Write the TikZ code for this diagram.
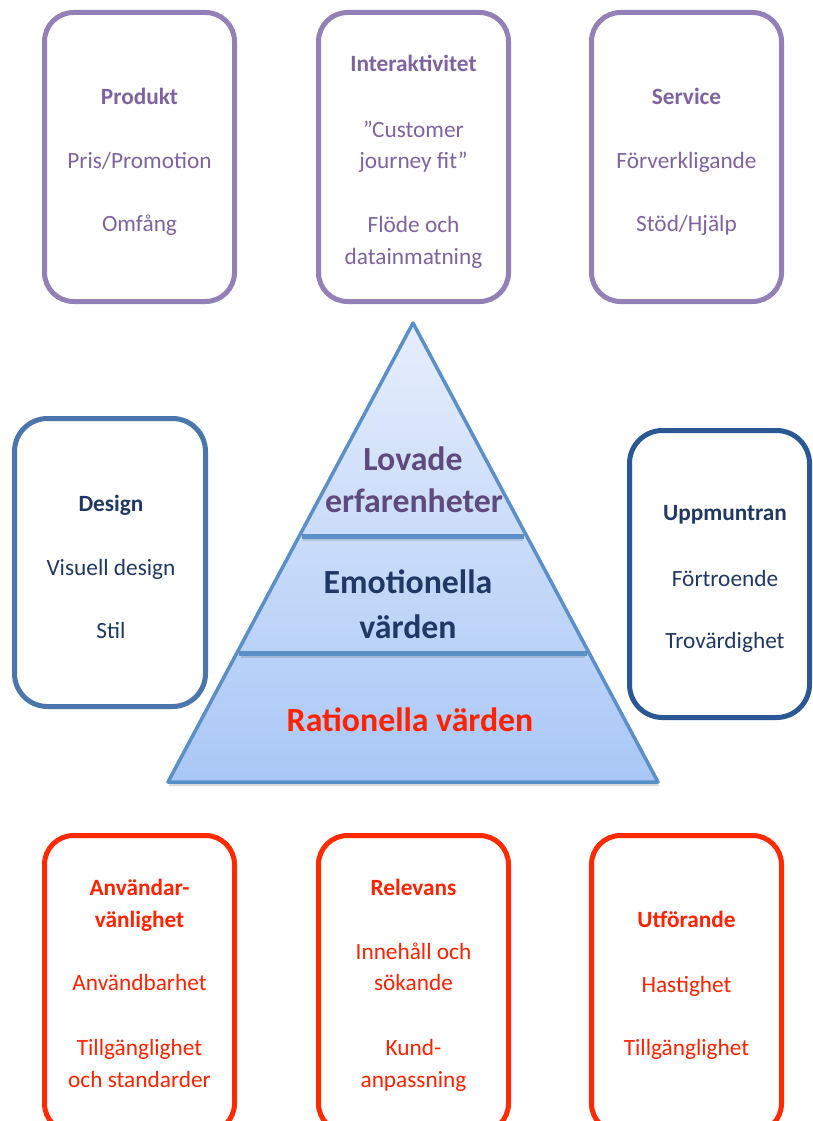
\documentclass[tikz,border=0pt]{standalone}
\usepackage{fontspec}
\setmainfont{Carlito}
\usetikzlibrary{calc}

\definecolor{purpleline}{HTML}{9280B6}
\definecolor{purpletext}{HTML}{7F63A1}
\definecolor{lovadetext}{HTML}{5F4A7D}
\definecolor{designline}{HTML}{4A76AB}
\definecolor{uppline}{HTML}{2B5894}
\definecolor{navytext}{HTML}{1F3864}
\definecolor{redline}{HTML}{FF2A00}
\definecolor{redtext}{HTML}{FF2200}
\definecolor{pyrline}{HTML}{5B8FC8}
\definecolor{pyrtop}{HTML}{E6EEFC}
\definecolor{pyrbottom}{HTML}{A9C7F6}

\tikzset{
  catbox/.style={draw, line width=5pt, fill=white, inner sep=0pt,
    rounded corners=29pt, minimum width=190pt, minimum height=289pt},
  sidebox/.style={catbox, rounded corners=33pt, minimum width=191pt, minimum height=288pt},
  txt/.style={font=\fontsize{23.3}{28}\selectfont, anchor=base, inner sep=0pt},
  head/.style={txt, font=\fontsize{23.3}{28}\selectfont\bfseries},
  pyrtxt/.style={font=\fontsize{33.8}{40}\selectfont\bfseries, anchor=base, inner sep=0pt},
  divider/.style={draw=pyrline, line width=5pt},
}

\begin{document}
\begin{tikzpicture}[x=1pt, y=-1pt]
\clip (0,0) rectangle (812,1121);
\fill[white] (0,0) rectangle (812,1121);

% ---------- top row ----------
\node[catbox, draw=purpleline] (produkt) at (139.5,157) {};
\node[catbox, draw=purpleline] (interakt) at (413.5,157) {};
\node[catbox, draw=purpleline] (service) at (686.5,157) {};

\node[head, text=purpletext] (t1) at (139.5,105) {Produkt};
\node[txt, text=purpletext] (t2) at (139.5,168) {Pris/Promotion};
\node[txt, text=purpletext] (t3) at (139.5,231) {Omfång};

\node[head, text=purpletext] (t4) at (413.5,72) {Interaktivitet};
\node[txt, text=purpletext] (t5) at (413.5,137) {”Customer};
\node[txt, text=purpletext] (t6) at (413.5,168) {journey fit”};
\node[txt, text=purpletext] (t7) at (413.5,232) {Flöde och};
\node[txt, text=purpletext] (t8) at (413.5,264) {datainmatning};

\node[head, text=purpletext] (t9) at (686.5,105) {Service};
\node[txt, text=purpletext] (t10) at (686.5,168) {Förverkligande};
\node[txt, text=purpletext] (t11) at (686.5,231) {Stöd/Hjälp};

% ---------- side boxes ----------
\node[sidebox, draw=designline] (design) at (110,562.5) {};
\node[sidebox, draw=uppline, minimum width=180pt, minimum height=287pt] (uppm) at (719.5,574) {};

\node[head, text=navytext] (d1) at (111,511) {Design};
\node[txt, text=navytext] (d2) at (111,575) {Visuell design};
\node[txt, text=navytext] (d3) at (111,638) {Stil};

\node[head, text=navytext] (u1) at (725,520) {Uppmuntran};
\node[txt, text=navytext] (u2) at (725,586) {Förtroende};
\node[txt, text=navytext] (u3) at (725,648) {Trovärdighet};

% ---------- pyramid ----------
\coordinate (apex) at (413,323);
\coordinate (bl) at (168,782);
\coordinate (br) at (658,782);

\fill[black, opacity=0.15] ([shift={(1,4)}]apex) -- ([shift={(1,4)}]bl) -- ([shift={(1,4)}]br) -- cycle;
\shade[top color=pyrtop, bottom color=pyrbottom, draw=pyrline, line width=3.5pt, line join=round]
  (apex) -- (bl) -- (br) -- cycle;

\coordinate (l1) at ($(apex)!0.466!(bl)$);
\coordinate (r1) at ($(apex)!0.466!(br)$);
\coordinate (l2) at ($(apex)!0.719!(bl)$);
\coordinate (r2) at ($(apex)!0.719!(br)$);

\draw[black, opacity=0.12, line width=3pt, shorten <=4pt, shorten >=4pt]
  ([yshift=-3pt]l1) -- ([yshift=-3pt]r1);
\draw[black, opacity=0.12, line width=3pt, shorten <=4pt, shorten >=4pt]
  ([yshift=-3pt]l2) -- ([yshift=-3pt]r2);
\draw[divider, shorten <=3pt, shorten >=3pt] (l1) -- (r1);
\draw[divider, shorten <=2pt, shorten >=2pt] (l2) -- (r2);

\node[pyrtxt, text=lovadetext] (p1) at (413,470) {Lovade};
\node[pyrtxt, text=lovadetext] (p2) at (414,512) {erfarenheter};
\node[pyrtxt, text=navytext] (p3) at (408,593) {Emotionella};
\node[pyrtxt, text=navytext] (p4) at (408,638) {värden};
\node[pyrtxt, text=redtext] (p5) at (410,731) {Rationella värden};

% ---------- bottom row ----------
\node[catbox, draw=redline, minimum height=297pt] (anv) at (139.5,984) {};
\node[catbox, draw=redline, minimum height=297pt] (rel) at (413.5,984) {};
\node[catbox, draw=redline, minimum height=297pt] (utf) at (686.5,984) {};

\node[head, text=redtext] (b1) at (139.5,895) {Användar-};
\node[head, text=redtext] (b2) at (139.5,927) {vänlighet};
\node[txt, text=redtext] (b3) at (139.5,990) {Användbarhet};
\node[txt, text=redtext] (b4) at (139.5,1055) {Tillgänglighet};
\node[txt, text=redtext] (b5) at (139.5,1087) {och standarder};

\node[head, text=redtext] (b6) at (413.5,895) {Relevans};
\node[txt, text=redtext] (b7) at (413.5,959) {Innehåll och};
\node[txt, text=redtext] (b8) at (413.5,990) {sökande};
\node[txt, text=redtext] (b9) at (413.5,1055) {Kund-};
\node[txt, text=redtext] (b10) at (413.5,1087) {anpassning};

\node[head, text=redtext] (b11) at (686.5,927) {Utförande};
\node[txt, text=redtext] (b12) at (686.5,992) {Hastighet};
\node[txt, text=redtext] (b13) at (686.5,1055) {Tillgänglighet};
\end{tikzpicture}
\end{document}
